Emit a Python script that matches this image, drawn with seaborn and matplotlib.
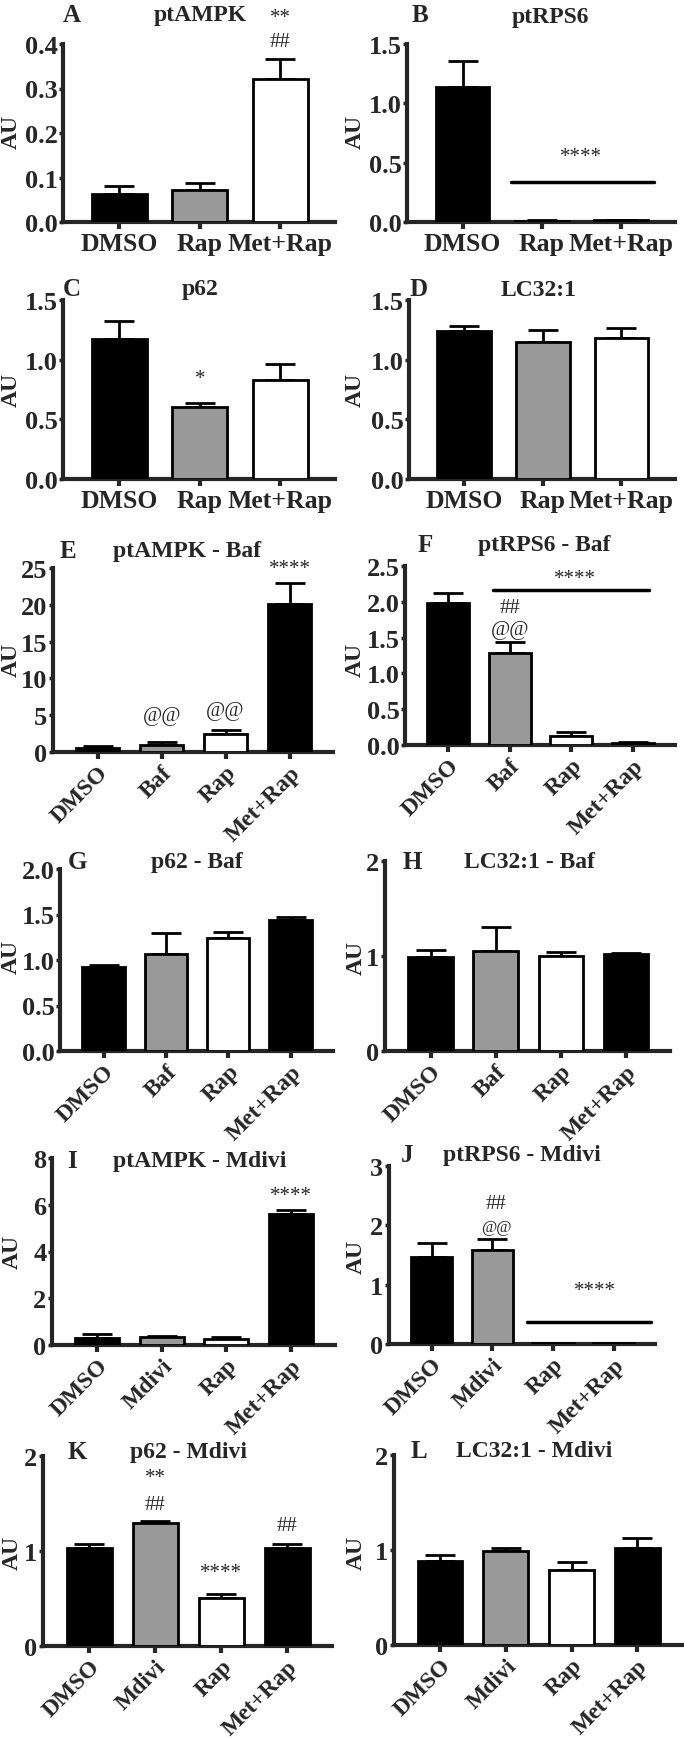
import numpy as np
import pandas as pd
import matplotlib
matplotlib.use('Agg')
import matplotlib.pyplot as plt
import seaborn as sns

# ============================================
# Data
# ============================================
GROUPS_3 = ['DMSO', 'Rap', 'Met+Rap']
GROUPS_BAF = ['DMSO', 'Baf', 'Rap', 'Met+Rap']
GROUPS_MDIVI = ['DMSO', 'Mdivi', 'Rap', 'Met+Rap']

A_mean = [0.063, 0.073, 0.321]
A_err = [0.017, 0.014, 0.045]
B_mean = [1.14, 0.01, 0.015]
B_err = [0.215, 0.003, 0.005]
C_mean = [1.17, 0.60, 0.83]
C_err = [0.155, 0.04, 0.13]
D_mean = [1.24, 1.15, 1.18]
D_err = [0.04, 0.10, 0.085]
E_mean = [0.6, 1.0, 2.5, 20.1]
E_err = [0.15, 0.3, 0.5, 2.8]
F_mean = [1.99, 1.28, 0.13, 0.03]
F_err = [0.13, 0.16, 0.045, 0.015]
G_mean = [0.92, 1.07, 1.24, 1.44]
G_err = [0.02, 0.23, 0.07, 0.035]
H_mean = [0.99, 1.05, 1.00, 1.02]
H_err = [0.075, 0.26, 0.04, 0.01]
I_mean = [0.29, 0.33, 0.26, 5.6]
I_err = [0.18, 0.05, 0.09, 0.19]
J_mean = [1.46, 1.59, 0.02, 0.02]
J_err = [0.25, 0.18, 0.005, 0.005]
K_mean = [1.03, 1.30, 0.51, 1.03]
K_err = [0.045, 0.015, 0.04, 0.045]
L_mean = [0.88, 0.985, 0.79, 1.02]
L_err = [0.065, 0.04, 0.08, 0.11]

COLORS_3 = ['black', '#999999', 'white']
COLORS_4 = ['black', '#999999', 'white', 'black']

W, H = 684, 1740
SERIF = 'Liberation Serif'

sns.set_style('ticks')
plt.rcParams['font.family'] = [SERIF, 'DejaVu Serif']
plt.rcParams['font.weight'] = 'bold'

fig = plt.figure(figsize=(W / 100, H / 100), dpi=100)


def box(l, t, r, b):
    return [l / W, 1 - b / H, (r - l) / W, (b - t) / H]


def ftext(x, y, s, **kw):
    fig.text(x / W, 1 - y / H, s, ha='center', va='center', **kw)


# panel: letter, title, groups, means, errs, colors, box, ylim, yticks, fmt,
# letter pos, title pos, AU pos, rotated labels
panels = [
    ('A', 'ptAMPK', GROUPS_3, A_mean, A_err, COLORS_3, (63, 45, 335, 223),
     0.4, [0, 0.1, 0.2, 0.3, 0.4], '{:.1f}', (72, 15), (200, 15), (11, 132), False),
    ('B', 'ptRPS6', GROUPS_3, B_mean, B_err, COLORS_3, (407, 45, 675, 223),
     1.5, [0, 0.5, 1.0, 1.5], '{:.1f}', (420, 15), (550, 17), (355, 132), False),
    ('C', 'p62', GROUPS_3, C_mean, C_err, COLORS_3, (63, 301, 335, 480),
     1.5, [0, 0.5, 1.0, 1.5], '{:.1f}', (72, 290), (200, 290), (11, 390), False),
    ('D', 'LC32:1', GROUPS_3, D_mean, D_err, COLORS_3, (409, 301, 675, 480),
     1.5, [0, 0.5, 1.0, 1.5], '{:.1f}', (419, 290), (539, 290), (355, 390), False),
    ('E', 'ptAMPK - Baf', GROUPS_BAF, E_mean, E_err, COLORS_4, (53, 569, 333, 753),
     25, [0, 5, 10, 15, 20, 25], '{:.0f}', (68, 552), (187, 552), (11, 660), True),
    ('F', 'ptRPS6 - Baf', GROUPS_BAF, F_mean, F_err, COLORS_4, (405, 567, 675, 746),
     2.5, [0, 0.5, 1.0, 1.5, 2.0, 2.5], '{:.1f}', (425, 545), (544, 545), (355, 660), True),
    ('G', 'p62 - Baf', GROUPS_BAF, G_mean, G_err, COLORS_4, (60, 870, 333, 1052),
     2.0, [0, 0.5, 1.0, 1.5, 2.0], '{:.1f}', (77, 863), (197, 863), (11, 957), True),
    ('H', 'LC32:1 - Baf', GROUPS_BAF, H_mean, H_err, COLORS_4, (385, 862, 670, 1052),
     2, [0, 1, 2], '{:.0f}', (412, 863), (530, 863), (356, 958), True),
    ('I', 'ptAMPK - Mdivi', GROUPS_MDIVI, I_mean, I_err, COLORS_4, (52, 1159, 335, 1346),
     8, [0, 2, 4, 6, 8], '{:.0f}', (72, 1162), (200, 1162), (12, 1252), True),
    ('J', 'ptRPS6 - Mdivi', GROUPS_MDIVI, J_mean, J_err, COLORS_4, (389, 1167, 655, 1345),
     3, [0, 1, 2, 3], '{:.0f}', (407, 1155), (522, 1155), (356, 1257), True),
    ('K', 'p62 - Mdivi', GROUPS_MDIVI, K_mean, K_err, COLORS_4, (43, 1457, 332, 1647),
     2, [0, 1, 2], '{:.0f}', (77, 1453), (188, 1453), (12, 1553), True),
    ('L', 'LC32:1 - Mdivi', GROUPS_MDIVI, L_mean, L_err, COLORS_4, (394, 1456, 682, 1646),
     2, [0, 1, 2], '{:.0f}', (419, 1452), (534, 1452), (356, 1553), True),
]

axes = {}
for (letter, title, groups, means, errs, colors, bx, ymax, yticks, fmt,
     lpos, tpos, aupos, rotated) in panels:
    ax = fig.add_axes(box(*bx))
    df = pd.DataFrame({'group': groups, 'value': means})
    sns.barplot(data=df, x='group', y='value', hue='group', palette=colors,
                legend=False, width=0.68, edgecolor='black', linewidth=2,
                saturation=1, ax=ax, zorder=3)
    xs = np.arange(len(groups))
    ax.errorbar(xs, means, yerr=[np.zeros(len(errs)), errs], fmt='none',
                ecolor='black', elinewidth=2, capsize=11, capthick=2, zorder=2)
    n = len(groups)
    ax.set_xlim(-0.7, n - 1 + 0.68)
    ax.set_ylim(0, ymax)
    ax.set_yticks(yticks)
    ax.set_yticklabels([fmt.format(v) for v in yticks], fontsize=19, fontweight='bold')
    ax.set_xlabel('')
    ax.set_ylabel('')
    ax.set_xticks(xs)
    if rotated:
        ax.set_xticklabels(groups, rotation=45, ha='right', rotation_mode='anchor',
                           fontsize=17, fontweight='bold')
    else:
        ax.set_xticklabels(groups, fontsize=18.5, fontweight='bold')
    sns.despine(ax=ax)
    for sp in ['left', 'bottom']:
        ax.spines[sp].set_linewidth(3)
    ax.tick_params(axis='y', length=3, width=2.5, pad=1)
    ax.tick_params(axis='x', length=5, width=3, pad=2)
    ax.patch.set_alpha(0)
    ftext(*lpos, letter, fontsize=18, fontweight='bold')
    ftext(*tpos, title, fontsize=17, fontweight='bold')
    ftext(*aupos, 'AU', fontsize=17, fontweight='bold', rotation=90)
    axes[letter] = ax

ann = dict(ha='center', va='center', fontsize=15, fontweight='normal', clip_on=False)

# significance marks
ax = axes['A']
ax.text(2, 0.46, '**', **ann)
ax.text(2, 0.405, '##', **ann)

ax = axes['B']
ax.plot([0.61, 2.42], [0.335, 0.335], color='black', lw=2.5, solid_capstyle='round')
ax.text(1.5, 0.556, '****', **ann)

ax = axes['C']
ax.text(1, 0.838, '*', **ann)

ax = axes['E']
ax.text(1, 5.0, '@@', **ann)
ax.text(2, 5.65, '@@', **ann)
ax.text(3, 25.0, '****', **ann)

ax = axes['F']
ax.plot([0.72, 3.26], [2.17, 2.17], color='black', lw=2.5, solid_capstyle='round')
ax.text(2.06, 2.33, '****', **ann)
ax.text(1, 1.925, '##', **ann)
ax.text(1, 1.62, '@@', **ann)

ax = axes['I']
ax.text(3, 6.39, '****', **ann)

ax = axes['J']
ax.plot([1.57, 3.61], [0.375, 0.375], color='black', lw=2.5, solid_capstyle='round')
ax.text(2.7, 0.9, '****', **ann)
ax.text(1.06, 2.36, '##', **ann)
ax.text(1.06, 1.97, '@@', **dict(ann, fontsize=12))

ax = axes['K']
ax.text(1, 1.77, '**', **ann)
ax.text(1, 1.49, '##', **ann)
ax.text(2, 0.77, '****', **ann)
ax.text(3, 1.265, '##', **ann)

fig.savefig('out.png', dpi=100, facecolor='white')
